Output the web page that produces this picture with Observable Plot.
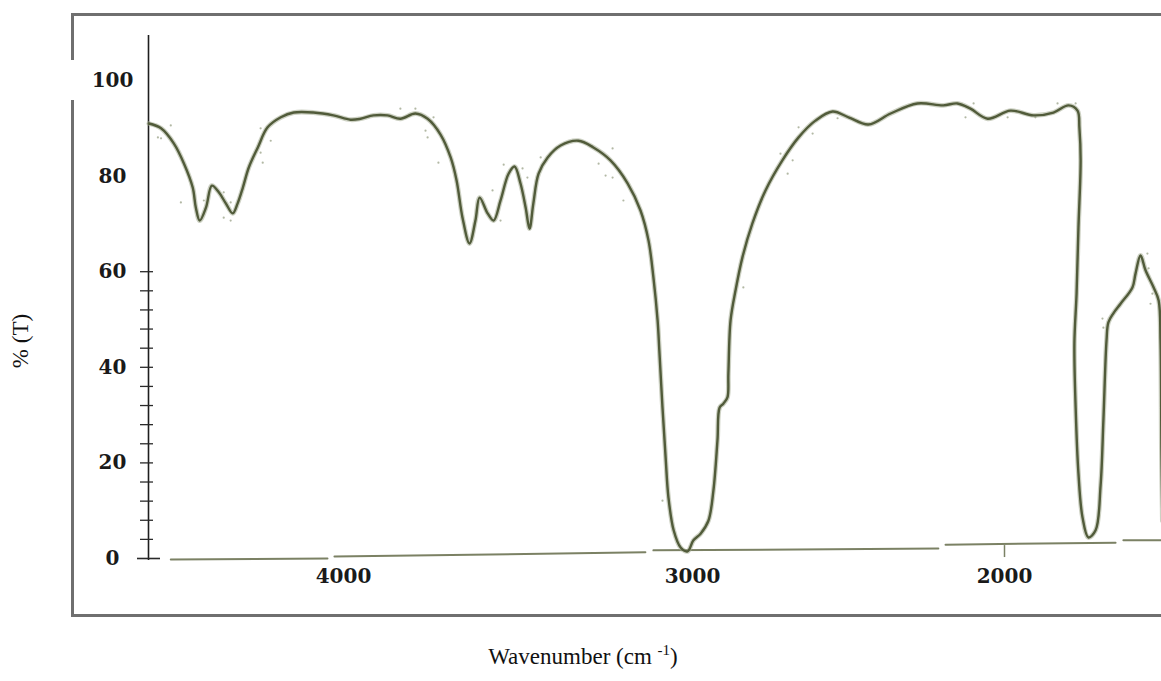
<!DOCTYPE html>
<html>
<head>
<meta charset="utf-8">
<script src="https://cdn.jsdelivr.net/npm/d3@7"></script>
<script src="https://cdn.jsdelivr.net/npm/@observablehq/plot@0.6"></script>
<style>
  body { margin: 0; background: #fff; }
  #wrap { position: relative; width: 1161px; height: 681px; overflow: hidden; background: #fff;
          font-family: "Liberation Serif", "Times New Roman", serif; color: #111; }
  #frame { position: absolute; left: 71px; top: 13px; width: 1200px; height: 604px;
           border: 3px solid #6f6f6f; box-sizing: border-box; }
  #gap { position: absolute; left: 66px; top: 60px; width: 14px; height: 40px; background: #fff; }
  #chart { position: absolute; left: 0; top: 0; }
  #ylabel { position: absolute; left: 21px; top: 341px; transform: translate(-50%, -50%) rotate(-90deg);
            font-size: 23px; white-space: nowrap; }
  #xlabel { position: absolute; left: 583px; top: 657px; transform: translate(-50%, -50%);
            font-size: 23px; white-space: nowrap; }
  #xlabel sup { font-size: 15px; vertical-align: baseline; position: relative; top: -9px; }
</style>
</head>
<body>
<div id="wrap">
  <div id="frame"></div>
  <div id="gap"></div>
  <div id="chart"></div>
  <div id="ylabel">% (T)</div>
  <div id="xlabel">Wavenumber (cm <sup>-1</sup>)</div>
</div>
<script>
// IR transmission spectrum: wavenumber (cm^-1) against % transmittance
const wavenumber = [
  4559, 4524, 4487, 4458, 4433, 4424, 4413, 4395, 4378, 4358,
  4338, 4318, 4304, 4289, 4272, 4246, 4218, 4180, 4143, 4086,
  4029, 3980, 3951, 3914, 3874, 3837, 3794, 3759, 3722, 3693,
  3676, 3659, 3639, 3622, 3610, 3587, 3570, 3550, 3527, 3510,
  3493, 3478, 3467, 3456, 3441, 3415, 3378, 3327, 3284, 3235,
  3186, 3149, 3126, 3112, 3100, 3095, 3086, 3077, 3069, 3054,
  3034, 3014, 2997, 2974, 2949, 2933, 2920, 2913, 2901, 2888,
  2885, 2878, 2862, 2840, 2808, 2766, 2712, 2660, 2606, 2551,
  2500, 2436, 2365, 2279, 2196, 2151, 2109, 2054, 1981, 1907,
  1843, 1795, 1766, 1760, 1756, 1763, 1769, 1776, 1772, 1763,
  1750, 1731, 1708, 1692, 1683, 1673, 1667, 1651, 1628, 1590,
  1580, 1564, 1548, 1522, 1506, 1500, 1497, 1494
];
const transmittance = [
  91.0, 90.0, 86.8, 82.6, 77.6, 73.4, 70.7, 73.4, 78.0, 76.6,
  74.3, 72.2, 74.3, 77.6, 81.8, 86.0, 90.2, 92.3, 93.3, 93.3,
  92.7, 91.8, 92.0, 92.7, 92.7, 92.0, 93.1, 92.0, 88.7, 83.9,
  79.1, 71.3, 65.9, 70.7, 75.5, 72.2, 70.7, 74.9, 80.5, 82.0,
  78.5, 73.4, 69.0, 74.3, 80.5, 83.9, 86.4, 87.4, 86.0, 83.3,
  78.5, 72.8, 66.5, 58.8, 49.8, 43.5, 31.6, 21.1, 12.8, 5.9,
  2.3, 1.5, 3.8, 5.2, 7.9, 14.2, 24.7, 31.6, 32.4, 33.7,
  38.7, 49.8, 56.1, 63.0, 70.1, 77.0, 83.3, 88.1, 91.6, 93.5,
  92.3, 90.8, 93.1, 95.2, 94.8, 95.2, 94.1, 92.0, 93.7, 92.7,
  93.3, 94.8, 93.7, 90.2, 83.3, 69.2, 55.4, 45.0, 31.6, 17.8,
  8.6, 4.4, 5.9, 15.3, 28.9, 45.6, 49.4, 51.3, 53.3, 56.7,
  59.6, 63.4, 60.3, 56.7, 54.0, 45.6, 22.6, 7.9
];

// individual recorded points scattered around the trace
const scatterWavenumber = [
  4524, 4496, 4533, 4467, 4401, 4344, 4324, 4324, 4344, 4238,
  4238, 4232, 4209, 3837, 3794, 3765, 3759, 3728, 3742, 3541,
  3573, 3487, 3473, 3435, 3269, 3249, 3229, 3229, 3198, 3550,
  2718, 2695, 2679, 2660, 2615, 2837, 2535, 2099, 2125, 1990,
  1901, 1830, 1772, 1686, 1683, 1542, 1538, 1526, 1532, 3086
];
const scatterT = [
  87.9, 90.6, 88.1, 74.5, 74.9, 71.3, 70.7, 74.5, 76.6, 90.0,
  84.9, 82.8, 87.4, 94.1, 94.1, 89.5, 88.1, 82.8, 92.3, 82.4,
  77.0, 81.6, 79.7, 83.9, 82.6, 80.1, 79.7, 85.8, 74.9, 70.7,
  84.7, 80.5, 83.3, 90.2, 88.9, 56.7, 92.1, 95.2, 92.3, 92.3,
  92.3, 95.2, 95.2, 50.2, 48.3, 63.8, 60.7, 55.4, 53.3, 12.1
];

// zero-transmittance baseline, drawn in broken pieces
const baselineWavenumber = [4496, 4046, 4026, 3135, 3112, 2212, 2189, 1644, 1619, 1497];
const baselineT          = [-0.2, 0.0, 0.4, 1.3, 1.7, 2.1, 2.9, 3.3, 3.8, 3.8];
const baselineSegment    = [1, 1, 2, 2, 3, 3, 4, 4, 5, 5];

// axis ticks and labels
const xTickLabels = [4000, 3000, 2000];
const xTickMarks = [2000];
const yTickLabels = [0, 20, 40, 60, 80, 100];
const yMinorTicks = [4, 8, 12, 16, 20, 24, 28, 32, 36, 40, 44, 48, 52, 56, 60];
const yZeroTick = [0];

const spectrum = wavenumber.map((w, i) => ({w, t: transmittance[i]}));
const scatter = scatterWavenumber.map((w, i) => ({w, t: scatterT[i]}));
const baseline = baselineWavenumber.map((w, i) => ({w, t: baselineT[i], s: baselineSegment[i]}));

const lineColor = "#515b3a";
const labelFont = {fontFamily: "DejaVu Serif", fontSize: 20, fontWeight: "bold", fill: "#1a1a1a"};

const chart = Plot.plot({
  width: 1161,
  height: 630,
  marginLeft: 148,
  marginRight: 0,
  marginTop: 35,
  marginBottom: 70,
  style: {background: "transparent", overflow: "visible"},
  x: {type: "linear", domain: [4560, 4000, 3000, 2000, 1500], range: [148, 343, 692, 1004, 1160], axis: null},
  y: {type: "linear", domain: [0, 100], range: [558, 80], axis: null},
  marks: [
    // vertical axis line with its ticks
    Plot.ruleX([4560], {y1: -0.4, y2: 109.4, stroke: "#1e1e1e", strokeWidth: 1.6}),
    Plot.axisY(yMinorTicks, {label: null, tickSize: 13, dx: 5, tickFormat: () => "", stroke: "#2a2a2a", strokeWidth: 1.3}),
    Plot.axisY(yZeroTick, {label: null, tickSize: 23, dx: 12, tickFormat: () => "", stroke: "#2a2a2a", strokeWidth: 1.6}),
    Plot.text(yTickLabels, {y: d => d, frameAnchor: "left", dx: -36, text: d => String(d), textAnchor: "middle", ...labelFont}),
    // baseline and wavenumber labels
    Plot.line(baseline, {x: "w", y: "t", z: "s", stroke: "#7b8164", strokeWidth: 2}),
    Plot.ruleX(xTickMarks, {y1: 0.2, y2: 2.7, stroke: "#7b8164", strokeWidth: 1.5}),
    Plot.text(xTickLabels, {x: d => d, frameAnchor: "bottom", dy: 22, text: d => String(d), textAnchor: "middle", ...labelFont}),
    // spectrum
    Plot.dot(scatter, {x: "w", y: "t", r: 1.1, fill: "#98a086", fillOpacity: 0.75}),
    Plot.line(spectrum, {x: "w", y: "t", curve: "catmull-rom", stroke: "#a4ab92", strokeWidth: 4.8, strokeOpacity: 0.55}),
    Plot.line(spectrum, {x: "w", y: "t", curve: "catmull-rom", stroke: lineColor, strokeWidth: 2.4})
  ]
});
document.getElementById("chart").appendChild(chart);
</script>
</body>
</html>
